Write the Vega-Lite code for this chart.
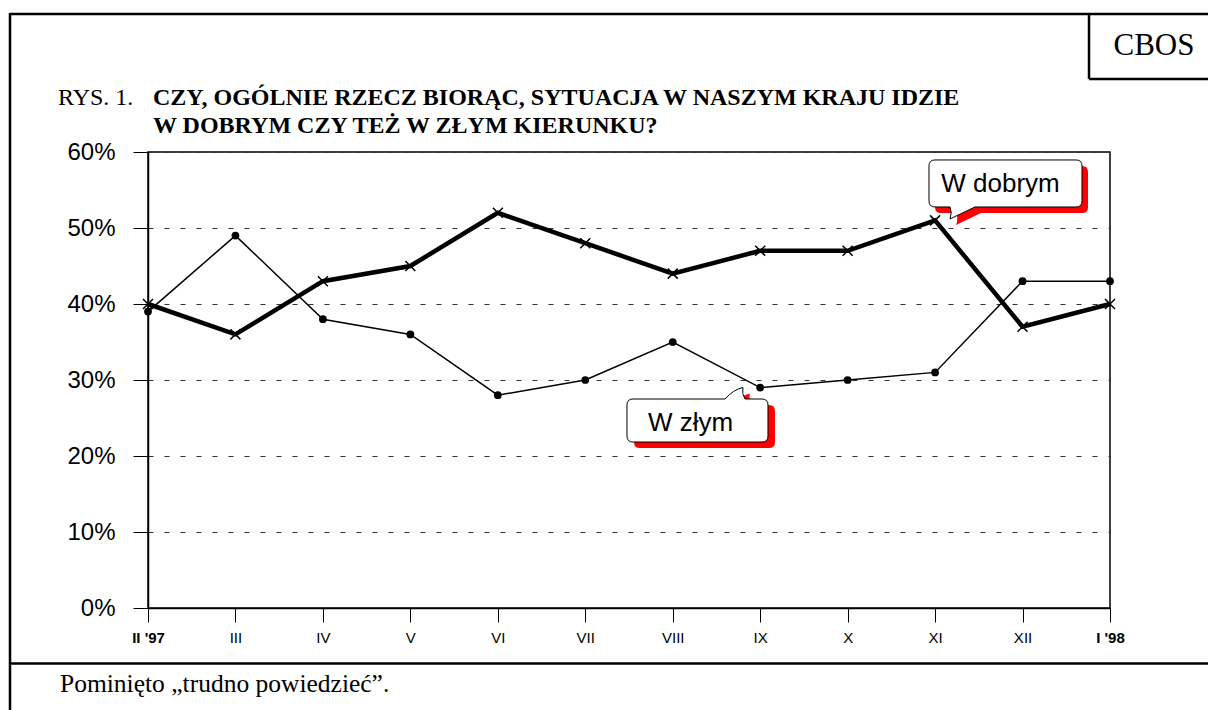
{
  "$schema": "https://vega.github.io/schema/vega-lite/v6.json",
  "width": 962,
  "height": 456,
  "autosize": {"type": "none"},
  "padding": {"left": 148, "top": 152, "right": 98, "bottom": 102},
  "background": "white",
  "config": {
    "view": {"stroke": "black", "strokeWidth": 1.5},
    "axis": {"domainColor": "black", "domainWidth": 1.5, "tickColor": "black", "tickWidth": 1, "labelColor": "black", "labelFont": "Liberation Sans", "titleFont": "Liberation Sans"}
  },
  "data": {
    "values": [
      {"i": 0, "m": "II '97", "dobrym": 40, "zlym": 39},
      {"i": 1, "m": "III", "dobrym": 36, "zlym": 49},
      {"i": 2, "m": "IV", "dobrym": 43, "zlym": 38},
      {"i": 3, "m": "V", "dobrym": 45, "zlym": 36},
      {"i": 4, "m": "VI", "dobrym": 52, "zlym": 28},
      {"i": 5, "m": "VII", "dobrym": 48, "zlym": 30},
      {"i": 6, "m": "VIII", "dobrym": 44, "zlym": 35},
      {"i": 7, "m": "IX", "dobrym": 47, "zlym": 29},
      {"i": 8, "m": "X", "dobrym": 47, "zlym": 30},
      {"i": 9, "m": "XI", "dobrym": 51, "zlym": 31},
      {"i": 10, "m": "XII", "dobrym": 37, "zlym": 43},
      {"i": 11, "m": "I '98", "dobrym": 40, "zlym": 43}
    ]
  },
  "encoding": {
    "x": {
      "type": "quantitative",
      "scale": {"domain": [0, 11], "nice": false, "zero": false},
      "axis": {
        "values": [0, 1, 2, 3, 4, 5, 6, 7, 8, 9, 10, 11],
        "labelExpr": "[\"II '97\",'III','IV','V','VI','VII','VIII','IX','X','XI','XII',\"I '98\"][datum.value]",
        "tickSize": 14, "labelFontSize": 15, "labelPadding": 8, "grid": false, "title": null,
        "labelFlush": false, "labelOverlap": false,
        "labelFontWeight": {"condition": {"test": "datum.value == 0 || datum.value == 11", "value": "bold"}, "value": "normal"}
      }
    },
    "y": {
      "type": "quantitative",
      "scale": {"domain": [0, 60], "nice": false, "zero": false},
      "axis": {
        "values": [0, 10, 20, 30, 40, 50, 60],
        "labelExpr": "datum.value + '%'",
        "tickSize": 15, "labelFontSize": 24, "labelPadding": 18,
        "grid": true, "gridDash": [5, 11], "gridColor": "#333", "gridWidth": 1, "title": null
      }
    }
  },
  "layer": [
    {
      "mark": {"type": "line", "color": "black", "strokeWidth": 1.5},
      "encoding": {"x": {"field": "i"}, "y": {"field": "zlym"}}
    },
    {
      "mark": {"type": "point", "shape": "circle", "filled": true, "color": "black", "opacity": 1, "size": 60},
      "encoding": {"x": {"field": "i"}, "y": {"field": "zlym"}}
    },
    {
      "mark": {"type": "line", "color": "black", "strokeWidth": 4.5, "strokeJoin": "miter"},
      "encoding": {"x": {"field": "i"}, "y": {"field": "dobrym"}}
    },
    {
      "mark": {"type": "point", "shape": "M-1,-1L1,1M-1,1L1,-1", "filled": false, "color": "black", "strokeWidth": 1.5, "opacity": 1, "size": 100},
      "encoding": {"x": {"field": "i"}, "y": {"field": "dobrym"}}
    },
    {
      "data": {"values": [{}]},
      "mark": {"type": "point", "shape": "M-70.5,-23.5L70.5,-23.5Q76.5,-23.5 76.5,-17.5L76.5,17.5Q76.5,23.5 70.5,23.5L-30.5,23.5L-55.5,35.5Q-53,29 -55.5,23.5L-70.5,23.5Q-76.5,23.5 -76.5,17.5L-76.5,-17.5Q-76.5,-23.5 -70.5,-23.5Z", "filled": true, "fill": "#ff0000", "strokeWidth": 0, "opacity": 1, "size": 4},
      "encoding": {"x": {"datum": 9.874}, "y": {"datum": 55.07}}
    },
    {
      "data": {"values": [{}]},
      "mark": {"type": "point", "shape": "M-70.5,-23.5L70.5,-23.5Q76.5,-23.5 76.5,-17.5L76.5,17.5Q76.5,23.5 70.5,23.5L-30.5,23.5L-55.5,35.5Q-53,29 -55.5,23.5L-70.5,23.5Q-76.5,23.5 -76.5,17.5L-76.5,-17.5Q-76.5,-23.5 -70.5,-23.5Z", "filled": true, "fill": "white", "stroke": "black", "strokeWidth": 1, "opacity": 1, "size": 4},
      "encoding": {"x": {"datum": 9.805}, "y": {"datum": 55.86}}
    },
    {
      "data": {"values": [{}]},
      "mark": {"type": "text", "text": "W dobrym", "font": "Liberation Sans", "fontSize": 26, "align": "center", "baseline": "middle", "dx": -5, "dy": 1, "color": "black"},
      "encoding": {"x": {"datum": 9.805}, "y": {"datum": 55.86}}
    },
    {
      "data": {"values": [{}]},
      "mark": {"type": "point", "shape": "M-64.5,-21.5L27.5,-21.5Q36,-31 45.5,-33Q44,-27 47.5,-21.5L64.5,-21.5Q70.5,-21.5 70.5,-15.5L70.5,15.5Q70.5,21.5 64.5,21.5L-64.5,21.5Q-70.5,21.5 -70.5,15.5L-70.5,-15.5Q-70.5,-21.5 -64.5,-21.5Z", "filled": true, "fill": "#ff0000", "strokeWidth": 0, "opacity": 1, "size": 4},
      "encoding": {"x": {"datum": 6.363}, "y": {"datum": 23.88}}
    },
    {
      "data": {"values": [{}]},
      "mark": {"type": "point", "shape": "M-64.5,-21.5L27.5,-21.5Q36,-31 45.5,-33Q44,-27 47.5,-21.5L64.5,-21.5Q70.5,-21.5 70.5,-15.5L70.5,15.5Q70.5,21.5 64.5,21.5L-64.5,21.5Q-70.5,21.5 -70.5,15.5L-70.5,-15.5Q-70.5,-21.5 -64.5,-21.5Z", "filled": true, "fill": "white", "stroke": "black", "strokeWidth": 1, "opacity": 1, "size": 4},
      "encoding": {"x": {"datum": 6.283}, "y": {"datum": 24.67}}
    },
    {
      "data": {"values": [{}]},
      "mark": {"type": "text", "text": "W złym", "font": "Liberation Sans", "fontSize": 26, "align": "center", "baseline": "middle", "dx": -7, "dy": 2, "color": "black"},
      "encoding": {"x": {"datum": 6.283}, "y": {"datum": 24.67}}
    },
    {
      "data": {"values": [{}]},
      "mark": {"type": "text", "text": "RYS. 1.", "font": "Liberation Serif", "fontSize": 24, "align": "left", "baseline": "alphabetic", "color": "black"},
      "encoding": {"x": {"datum": -1.029}, "y": {"datum": 66.18}}
    },
    {
      "data": {"values": [{}]},
      "mark": {"type": "text", "text": ["CZY, OGÓLNIE RZECZ BIORĄC, SYTUACJA W NASZYM KRAJU IDZIE", "W DOBRYM CZY TEŻ W ZŁYM KIERUNKU?"], "font": "Liberation Serif", "fontSize": 24, "fontWeight": "bold", "lineHeight": 28, "align": "left", "baseline": "alphabetic", "color": "black"},
      "encoding": {"x": {"datum": 0.0572}, "y": {"datum": 66.18}}
    },
    {
      "data": {"values": [{}]},
      "mark": {"type": "text", "text": "CBOS", "font": "Liberation Serif", "fontSize": 31, "align": "center", "baseline": "alphabetic", "color": "black"},
      "encoding": {"x": {"datum": 11.503}, "y": {"datum": 72.76}}
    },
    {
      "data": {"values": [{}]},
      "mark": {"type": "text", "text": "Pominięto „trudno powiedzieć”.", "font": "Liberation Serif", "fontSize": 25.5, "align": "left", "baseline": "alphabetic", "color": "black"},
      "encoding": {"x": {"datum": -1.006}, "y": {"datum": -11.05}}
    },
    {
      "data": {"values": [{}]},
      "mark": {"type": "rule", "color": "black", "strokeWidth": 2.5},
      "encoding": {"x": {"datum": -1.578}, "x2": {"datum": 12.3}, "y": {"datum": 78.16}}
    },
    {
      "data": {"values": [{}]},
      "mark": {"type": "rule", "color": "black", "strokeWidth": 2.5},
      "encoding": {"x": {"datum": -1.578}, "y": {"datum": 78.3}, "y2": {"datum": -14}}
    },
    {
      "data": {"values": [{}]},
      "mark": {"type": "rule", "color": "black", "strokeWidth": 2.5},
      "encoding": {"x": {"datum": -1.578}, "x2": {"datum": 12.3}, "y": {"datum": -7.3}}
    },
    {
      "data": {"values": [{}]},
      "mark": {"type": "rule", "color": "black", "strokeWidth": 2.5},
      "encoding": {"x": {"datum": 10.76}, "y": {"datum": 78.3}, "y2": {"datum": 69.6}}
    },
    {
      "data": {"values": [{}]},
      "mark": {"type": "rule", "color": "black", "strokeWidth": 2.5},
      "encoding": {"x": {"datum": 10.76}, "x2": {"datum": 12.3}, "y": {"datum": 69.6}}
    }
  ]
}
